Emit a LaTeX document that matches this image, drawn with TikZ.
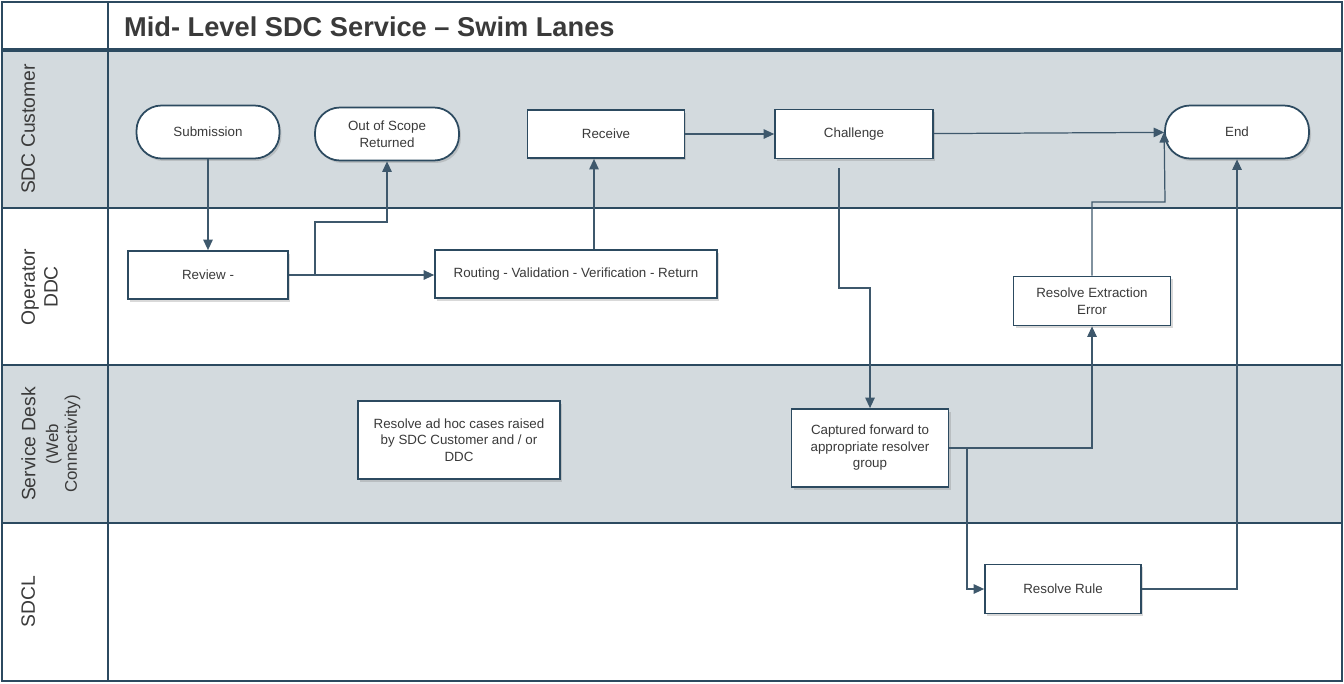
\documentclass[tikz,border=0pt]{standalone}
\usepackage{fontspec}
\setmainfont{Liberation Sans}
\usetikzlibrary{arrows.meta,positioning,shadows}
\definecolor{lanegray}{HTML}{D3DADE}
\definecolor{frameblue}{HTML}{2C4A60}
\definecolor{flowblue}{HTML}{3E586C}
\definecolor{txtgray}{HTML}{3A3A3A}
\newcommand{\boxfont}{\fontsize{7.6}{9.4}\selectfont}

\begin{document}
\begin{tikzpicture}[x=0.02cm, y=-0.02cm,
	box/.style={draw=frameblue, line width=1pt, fill=white, text=txtgray, font=\boxfont,
		align=center, inner sep=2pt, minimum width=3.14cm, minimum height=0.98cm,
		drop shadow={shadow xshift=0.04cm, shadow yshift=-0.05cm, opacity=0.3}},
	term/.style={box, rounded corners=0.5cm, minimum width=2.86cm, minimum height=1.06cm},
	flow/.style={draw=flowblue, line width=0.7pt, -{Triangle[length=0.21cm, width=0.19cm]}},
	lane/.style={rotate=90, anchor=north, inner sep=0pt, align=center, text=txtgray,
		font=\fontsize{11}{13}\selectfont}]

\useasboundingbox (0,0) rectangle (1344,683);

% lanes
\fill[lanegray] (2,50) rectangle (1342,208);
\fill[lanegray] (2,365) rectangle (1342,523);
\draw[frameblue, line width=1.2pt] (2,2) rectangle (1342,681);
\foreach \y in {208,365,523}
	\draw[frameblue, line width=1.2pt] (2,\y) -- (1342,\y);
\draw[frameblue, line width=1.8pt] (2,50) -- (1342,50);
\draw[frameblue, line width=0.8pt] (108,2) -- (108,681);

\node[anchor=west, text=txtgray, font=\fontsize{15.5}{18}\selectfont\bfseries] (title) at (118,27)
	{Mid- Level SDC Service -- Swim Lanes};

\node[lane] (l1) at (21,129) {SDC Customer};
\node[lane] (l2) at (21,287) {Operator\\DDC};
\node[lane] (l3) at (21,444) {Service Desk\\\fontsize{9.6}{11}\selectfont(Web\\[-2.3pt]\fontsize{9.6}{11}\selectfont Connectivity)};
\node[lane] (l4) at (21,602) {SDCL};

% customer lane
\node[term] (sub) at (208,132) {Submission};
\node[term, minimum width=2.88cm] (oos) at (387,134) {Out of Scope\\Returned};
\node[box, minimum height=0.96cm] (rec) at (606,134) {Receive};
\node[box, minimum width=3.16cm] (chal) at (854,134) {Challenge};
\node[term, minimum width=2.88cm] (end) at (1237,132) {End};

% operator lane
\node[box, minimum width=3.2cm, minimum height=0.96cm] (rev) at (208,275) {Review -};
\node[box, minimum width=5.64cm, minimum height=0.96cm] (rout) at (576,274)
	{Routing - Validation - Verification - Return};
\node[box] (ree) at (1092,301) {Resolve Extraction\\Error};

% service desk lane
\node[box, minimum width=4.04cm, minimum height=1.56cm] (adhoc) at (459,440)
	{Resolve ad hoc cases raised\\by SDC Customer and / or\\DDC};
\node[box, minimum height=1.56cm] (cap) at (870,448)
	{Captured forward to\\appropriate resolver\\group};

% sdcl lane
\node[box, minimum width=3.12cm] (rr) at (1063,589) {Resolve Rule};

% connectors
\coordinate (br1) at (315,275);
\coordinate (br2) at (315,222);
\coordinate (c1) at (839,168);
\coordinate (c2) at (839,288);
\coordinate (c3) at (967,448);
\coordinate (c4) at (1165,202);

\draw[flow] (sub) -- (rev);
\draw[flow] (rev.east) -- (rev.east -| rout.west);
\draw[flow] (br1) -- (br2) -| (oos.south);
\draw[flow] ([xshift=0.36cm]rout.north) -- ([xshift=0.36cm]rout.north |- rec.south);
\draw[flow] (rec) -- (chal);
\draw[flow] (chal) -- (end);
\draw[flow] (c1) -- (c2) -| (cap.north);
\draw[flow] (cap.east) -| (ree.south);
\draw[flow] (cap.east) -- (c3) |- (rr.west);
\draw[flow] (ree.north) |- (c4) -- (end.west);
\draw[flow] (rr.east) -| (end.south);
\end{tikzpicture}
\end{document}
